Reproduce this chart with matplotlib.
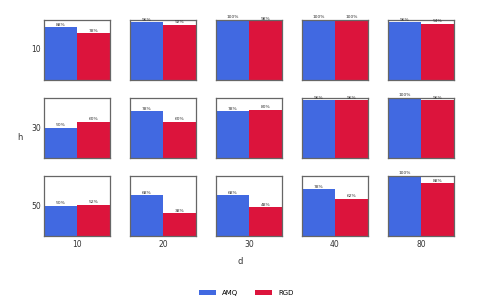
import numpy as np
import matplotlib
matplotlib.use("Agg")
import matplotlib.pyplot as plt
from matplotlib.patches import Patch

# grid values
h_vals = [10, 30, 50]
d_vals = [10, 20, 30, 40, 80]
methods = ["AMQ", "RGD"]
colors = ["#4169E1", "#DC143C"]

# success rates (%) per h row, d column
amq = [
    [88, 96, 100, 100, 96],
    [50, 78, 78, 96, 100],
    [50, 68, 68, 78, 100],
]
rgd = [
    [78, 92, 98, 100, 94],
    [60, 60, 80, 96, 96],
    [52, 38, 48, 62, 88],
]

W, H = 481, 306
fig = plt.figure(figsize=(W / 100, H / 100), dpi=100)

col_left = [44, 130, 216, 302, 388]
row_top = [20, 98, 176]
aw, ah = 66, 60

for i, h in enumerate(h_vals):
    for j, d in enumerate(d_vals):
        ax = fig.add_axes([col_left[j] / W, 1 - (row_top[i] + ah) / H, aw / W, ah / H])
        vals = [amq[i][j], rgd[i][j]]
        ax.bar([0, 1], vals, width=1.0, color=colors, align="edge")
        for k, v in enumerate(vals):
            ax.text(k + 0.5, v + 1, f"{v}%", ha="center", va="bottom",
                    fontsize=3.2, color="#333333")
        ax.set_xlim(0, 2)
        ax.set_ylim(0, 100)
        ax.set_xticks([])
        ax.set_yticks([])
        for s in ax.spines.values():
            s.set_color("#666666")
            s.set_linewidth(0.9)
        if j == 0:
            ax.text(-0.05, 0.5, str(h), transform=ax.transAxes, ha="right",
                    va="center", fontsize=5.5, color="#333333")
        if i == len(h_vals) - 1:
            ax.text(0.5, -0.06, str(d), transform=ax.transAxes, ha="center",
                    va="top", fontsize=5.5, color="#333333")

fig.text(20 / W, 1 - 138 / H, "h", ha="center", va="center", fontsize=6, color="#333333")
fig.text(240 / W, 1 - 262 / H, "d", ha="center", va="center", fontsize=6, color="#333333")

handles = [Patch(facecolor=c, label=m) for c, m in zip(colors, methods)]
fig.legend(handles=handles, loc="center", bbox_to_anchor=(246 / W, 1 - 293 / H),
           ncol=2, frameon=False, fontsize=5, handlelength=2.5, handleheight=0.8,
           columnspacing=2.5, handletextpad=0.8)

fig.savefig("out.png", dpi=100)
